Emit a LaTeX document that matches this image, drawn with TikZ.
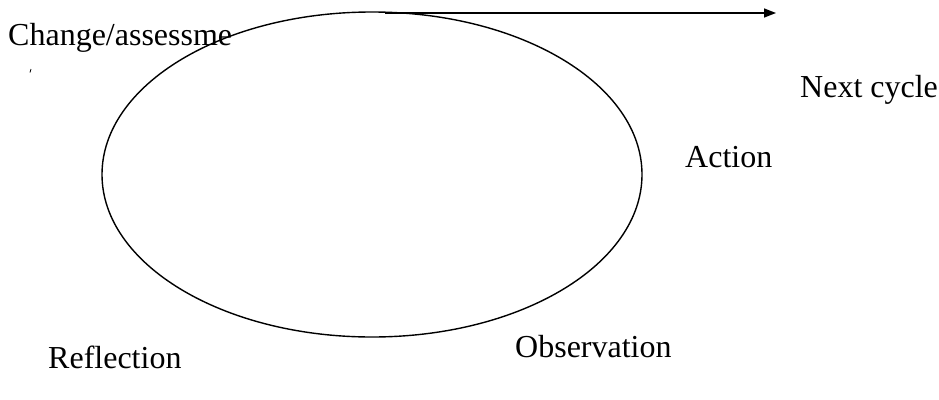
\documentclass[tikz,border=0pt]{standalone}
\usepackage{fontspec}
\setmainfont{Liberation Serif}
\usetikzlibrary{shapes.geometric,arrows.meta}
\tikzset{
  lbl/.style={anchor=base west, inner sep=0pt, font=\fontsize{32}{37}\selectfont},
  cyc/.style={draw, ellipse, line width=1.4pt, inner sep=0pt},
  arr/.style={line width=1.4pt, -{Triangle[length=12pt,width=9pt]}}
}
\begin{document}
\begin{tikzpicture}[x=1pt,y=-1pt]
\useasboundingbox (0,0) rectangle (939,399);
\node[cyc, minimum width=540pt, minimum height=325pt] (cycle) at (372,174.5) {};
\coordinate (s) at (385,13);
\coordinate (e) at (776,13);
\draw[arr] (s) -- (e);
\node[lbl] (change) at (8,45) {Change/assessme};
\node[lbl] (next) at (800,97) {Next cycle};
\node[lbl] (action) at (685,167) {Action};
\node[lbl] (obs) at (515,357) {Observation};
\node[lbl] (refl) at (48,368) {Reflection};
\coordinate (t1) at (31,69);
\coordinate (t2) at (30,72.5);
\draw[line width=0.8pt] (t1) -- (t2);
\end{tikzpicture}
\end{document}
